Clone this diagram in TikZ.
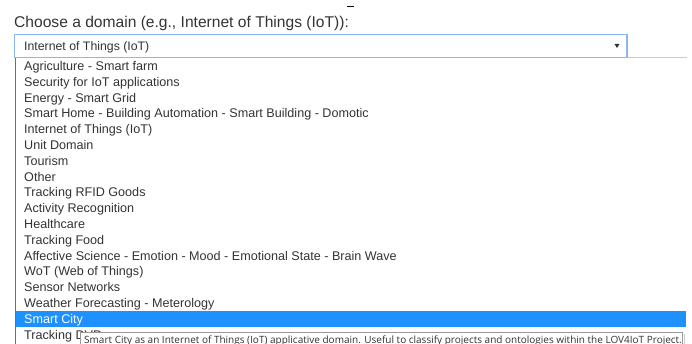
\documentclass[tikz,border=0pt]{standalone}
\usepackage{fontspec}
\setmainfont{Liberation Sans}
\newfontfamily\tipfont{Open Sans}
\definecolor{txtgray}{RGB}{51,51,51}
\definecolor{focusblue}{RGB}{140,182,240}
\definecolor{pickblue}{RGB}{30,144,255}
\definecolor{edgegray}{RGB}{110,110,110}
\definecolor{lineblue}{RGB}{192,204,226}
\tikzset{
  opt/.style={anchor=base west, inner sep=0pt, text=txtgray, font=\fontsize{12.6}{14}\selectfont},
}
\begin{document}
\begin{tikzpicture}[x=1pt,y=-1pt]
        \useasboundingbox (0,0) rectangle (692,344);
        \node[anchor=base west, inner sep=0pt, text=txtgray, font=\fontsize{15.6}{18}\selectfont] at (14,28) (title) {Choose a domain (e.g., Internet of Things (IoT)):};
        \draw[line width=1.5] (347,6.5) -- (353.5,6.5);
        % select box
        \draw[lineblue, line width=1] (14,57.5) -- (687,57.5);
        \draw[focusblue, line width=1.2, fill=white] (14.6,34.6) rectangle (627,57.4);
        \node[opt, font=\fontsize{12.3}{14}\selectfont] at (24,51) (current) {Internet of Things (IoT)};
        \fill[txtgray] (614.5,44) -- (619.5,44) -- (617,48) -- cycle;
        \draw[edgegray, line width=1.6] (15.3,58) -- (15.3,344);
        % options
        \node[opt] at (24,70.5) (opt1) {Agriculture - Smart farm};
        \node[opt] at (24,86.3) (opt2) {Security for IoT applications};
        \node[opt] at (24,102.1) (opt3) {Energy - Smart Grid};
        \node[opt] at (24,117.9) (opt4) {Smart Home - Building Automation - Smart Building - Domotic};
        \node[opt] at (24,133.7) (opt5) {Internet of Things (IoT)};
        \node[opt] at (24,149.5) (opt6) {Unit Domain};
        \node[opt] at (24,165.3) (opt7) {Tourism};
        \node[opt] at (24,181.1) (opt8) {Other};
        \node[opt] at (24,196.9) (opt9) {Tracking RFID Goods};
        \node[opt] at (24,212.7) (opt10) {Activity Recognition};
        \node[opt] at (24,228.5) (opt11) {Healthcare};
        \node[opt] at (24,244.3) (opt12) {Tracking Food};
        \node[opt] at (24,260.1) (opt13) {Affective Science - Emotion - Mood - Emotional State - Brain Wave};
        \node[opt] at (24,275.9) (opt14) {WoT (Web of Things)};
        \node[opt] at (24,291.7) (opt15) {Sensor Networks};
        \node[opt] at (24,307.5) (opt16) {Weather Forecasting - Meterology};
        \fill[pickblue] (16.2,311) rectangle (686,326.5);
        \node[opt, text=white] at (24,323.3) (opt17) {Smart City};
        \node[opt] at (24,339.1) (opt18) {Tracking DVD};
        % tooltip
        \draw[gray!80, fill=white] (80.5,332.5) rectangle (682.5,352);
        \draw[gray!40, line width=1.2] (684.2,334) -- (684.2,344);
        \node[anchor=base west, inner sep=0pt, text=txtgray, font=\tipfont\fontsize{10}{12}\selectfont] at (84,343.5) (tip) {Smart City as an Internet of Things (IoT) applicative domain. Useful to classify projects and ontologies within the LOV4IoT Project.};
    \end{tikzpicture}
\end{document}
